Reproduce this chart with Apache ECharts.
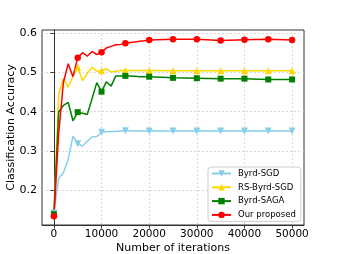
<!DOCTYPE html>
<html><head><meta charset="utf-8">
<script src="https://cdn.jsdelivr.net/npm/echarts@6/dist/echarts.min.js"></script>
<style>html,body{margin:0;padding:0;background:#fff}#c{width:338px;height:254px}</style>
</head><body><div id="c"></div>
<script>
const iterations = [0,1000,2000,3000,4000,5000,6000,7000,8000,9000,10000,11000,12000,13000,14000,15000,16000,17000,18000,19000,20000,25000,30000,35000,40000,45000,50000];
const byrdSGD = [0.143,0.232,0.245,0.279,0.338,0.319,0.313,0.325,0.336,0.337,0.348,0.349,0.350,0.350,0.351,0.352,0.352,0.351,0.351,0.351,0.351,0.351,0.351,0.351,0.351,0.351,0.351];
const rsByrdSGD = [0.140,0.444,0.485,0.462,0.490,0.513,0.479,0.497,0.513,0.503,0.504,0.509,0.501,0.503,0.505,0.505,0.505,0.505,0.505,0.505,0.505,0.504,0.504,0.504,0.504,0.504,0.504];
const byrdSAGA = [0.140,0.400,0.416,0.424,0.377,0.399,0.396,0.393,0.433,0.474,0.451,0.476,0.465,0.491,0.491,0.491,0.491,0.490,0.489,0.489,0.489,0.486,0.485,0.484,0.484,0.482,0.482];
const ourProposed = [0.135,0.345,0.475,0.522,0.489,0.537,0.550,0.541,0.553,0.545,0.551,0.562,0.566,0.570,0.571,0.574,0.576,0.577,0.579,0.580,0.582,0.584,0.584,0.581,0.583,0.584,0.582];
const xTicks = [0,10000,20000,30000,40000,50000];
const yTicks = [0.2,0.3,0.4,0.5,0.6];
const names = ['Byrd-SGD','RS-Byrd-SGD','Byrd-SAGA','Our proposed'];

const FONT = 'DejaVu Sans';
function mk(ys, sym) {
  return iterations.map((x, i) => ({value: [x, ys[i]], symbol: (x % 5000 === 0) ? sym : 'none'}));
}
function series(name, ys, color, sym, size, rot) {
  return {
    name, type: 'line', data: mk(ys, sym), symbol: sym, symbolSize: size, symbolRotate: rot || 0,
    showAllSymbol: true, animation: false, smooth: false,
    lineStyle: {color, width: 1.5}, itemStyle: {color},
  };
}
const chart = echarts.init(document.getElementById('c'));
chart.setOption({
  animation: false,
  textStyle: {fontFamily: FONT},
  grid: {left: 42, top: 30, right: 34, bottom: 29, containLabel: false, outerBoundsMode: 'none',
    show: true, borderColor: '#333', borderWidth: 1, backgroundColor: 'transparent'},
  xAxis: {
    type: 'value', min: -2500, max: 52500,
    name: 'Number of iterations', nameLocation: 'middle', nameGap: 18, nameMoveOverlap: false,
    nameTextStyle: {fontSize: 11, color: '#000', fontFamily: FONT},
    axisLine: {show: true, lineStyle: {color: '#333', width: 1}},
    axisTick: {show: true, length: 3.5, customValues: xTicks, lineStyle: {color: '#333'}},
    axisLabel: {customValues: xTicks, fontSize: 10.5, color: '#000', fontFamily: FONT, margin: 4,
      formatter: v => String(v)},
    splitLine: {show: true, lineStyle: {color: '#d0d0d0', type: [2, 2], width: 0.8}}
  },
  yAxis: {
    type: 'value', min: 0.1125, max: 0.6075,
    name: 'Classification Accuracy', nameLocation: 'middle', nameGap: 25, nameMoveOverlap: false,
    nameTextStyle: {fontSize: 11, color: '#000', fontFamily: FONT},
    axisLine: {show: true, lineStyle: {color: '#333', width: 1}},
    axisTick: {show: true, length: 3.5, customValues: yTicks, lineStyle: {color: '#333'}},
    axisLabel: {customValues: yTicks, fontSize: 11, color: '#000', fontFamily: FONT, margin: 5,
      formatter: v => v.toFixed(1)},
    splitLine: {show: true, lineStyle: {color: '#d0d0d0', type: [2, 2], width: 0.8}}
  },
  legend: {
    data: names, orient: 'vertical', left: 208, top: 167,
    itemWidth: 19, itemHeight: 8, itemGap: 4.8,
    padding: [2, 5, 2, 3],
    borderColor: '#ccc', borderWidth: 1, borderRadius: 3, backgroundColor: '#fff',
    textStyle: {fontSize: 8.5, color: '#000', fontFamily: FONT, padding: [0, 0, 0, 2]}
  },
  series: [
    series('Byrd-SGD', byrdSGD, '#87CEEB', 'triangle', 7, 180),
    series('RS-Byrd-SGD', rsByrdSGD, '#FFD700', 'triangle', 7, 0),
    series('Byrd-SAGA', byrdSAGA, '#008000', 'rect', 6, 0),
    series('Our proposed', ourProposed, '#FF0000', 'circle', 6.5, 0)
  ]
});
</script></body></html>
